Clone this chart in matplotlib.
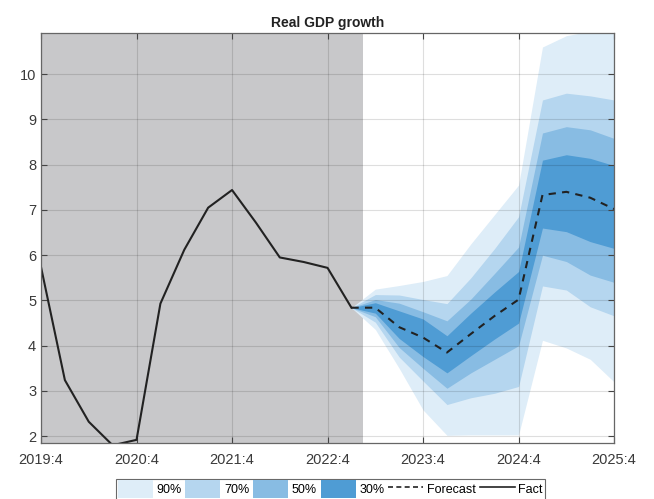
import numpy as np
import matplotlib
matplotlib.use("Agg")
import matplotlib.pyplot as plt
from matplotlib.patches import Patch
from matplotlib.lines import Line2D

plt.rcParams['font.family'] = ['Liberation Sans', 'DejaVu Sans']

# Tick labels (every 4 quarters from 2019:4 to 2025:4)
tick_labels = ["2019:4", "2020:4", "2021:4", "2022:4", "2023:4", "2024:4", "2025:4"]

# Actual data: 2019:4 .. 2023:1
fact = [5.74, 3.24, 2.32, 1.80, 1.92, 4.93, 6.12, 7.05, 7.44, 6.72,
        5.95, 5.85, 5.72, 4.84]

# Forecast path: 2023:1 .. 2025:4
forecast = [4.84, 4.84, 4.41, 4.18, 3.85, 4.26, 4.66, 5.02, 7.33, 7.40, 7.27, 7.02]

# Band bounds (upper / lower) for each probability level
up90 = [4.84, 5.25, 5.33, 5.42, 5.55, 6.25, 6.90, 7.55, 10.60, 10.85, 10.95, 11.00]
up70 = [4.84, 5.13, 5.12, 5.02, 4.93, 5.50, 6.15, 6.85, 9.43, 9.58, 9.52, 9.43]
up50 = [4.84, 5.02, 4.94, 4.75, 4.55, 5.03, 5.60, 6.18, 8.70, 8.84, 8.77, 8.58]
up30 = [4.84, 4.95, 4.77, 4.59, 4.22, 4.72, 5.19, 5.64, 8.10, 8.22, 8.14, 7.98]
lo30 = [4.84, 4.72, 4.16, 3.76, 3.40, 3.78, 4.15, 4.50, 6.60, 6.52, 6.30, 6.15]
lo50 = [4.84, 4.64, 3.96, 3.50, 3.06, 3.40, 3.70, 4.00, 6.00, 5.86, 5.56, 5.40]
lo70 = [4.84, 4.52, 3.75, 3.22, 2.70, 2.85, 2.95, 3.10, 5.32, 5.23, 4.86, 4.66]
lo90 = [4.84, 4.36, 3.50, 2.58, 2.02, 2.03, 2.03, 2.03, 4.12, 3.95, 3.70, 3.20]

band_names = ["90%", "70%", "50%", "30%"]
band_cols = ["#deedf8", "#b5d6ef", "#88bce3", "#4f9cd4"]

x_fact = np.arange(len(fact))
x_fc = np.arange(len(fact) - 1, len(fact) - 1 + len(forecast))

fig = plt.figure(figsize=(6.54, 4.99), dpi=100)
ax = fig.add_axes([0.0627, 0.1122, 0.8763, 0.8217])

# history shading
ax.axvspan(0, len(fact) - 0.5, color="#c8c8ca", lw=0, zorder=0)

uppers = [up90, up70, up50, up30]
lowers = [lo90, lo70, lo50, lo30]
for u, l, c in zip(uppers, lowers, band_cols):
    ax.fill_between(x_fc, l, u, color=c, lw=0, zorder=1)

ax.plot(x_fact, fact, color="#222222", lw=1.5, zorder=3)
ax.plot(x_fc, forecast, color="#222222", lw=1.5, ls=(0, (3.5, 3)), zorder=3)

ax.set_xlim(0, 24)
ax.set_ylim(1.85, 10.91)
ax.set_xticks(np.arange(0, 25, 4))
ax.set_xticklabels(tick_labels)
ax.set_yticks(range(2, 11))

ax.set_axisbelow(False)
ax.grid(True, color="black", alpha=0.13, lw=0.8)
ax.tick_params(direction="in", top=True, right=True, length=4, width=0.8,
               colors="#444444", labelsize=10.5, labelcolor="#3a3a3a")
ax.tick_params(axis="x", pad=7)
for s in ax.spines.values():
    s.set_color("#666666")
    s.set_linewidth(0.9)
    s.set_zorder(4)

ax.set_title("Real GDP growth", fontsize=10, fontweight="bold", color="#222222", pad=4)

handles = [Patch(facecolor=c, edgecolor="none", label=n) for c, n in zip(band_cols, band_names)]
handles.append(Line2D([], [], color="#222222", lw=1.2, ls=(0, (3, 2)), label="Forecast"))
handles.append(Line2D([], [], color="#222222", lw=1.2, label="Fact"))
leg = fig.legend(handles=handles, loc="upper center", bbox_to_anchor=(0.505, 0.041),
                 ncol=6, fontsize=9, frameon=True, fancybox=False, edgecolor="#444444",
                 handlelength=2.8, handleheight=1.8, handletextpad=0.3, columnspacing=0.3,
                 borderpad=0.15, borderaxespad=0)
leg.get_frame().set_linewidth(0.8)

fig.savefig("out.png", dpi=100)
